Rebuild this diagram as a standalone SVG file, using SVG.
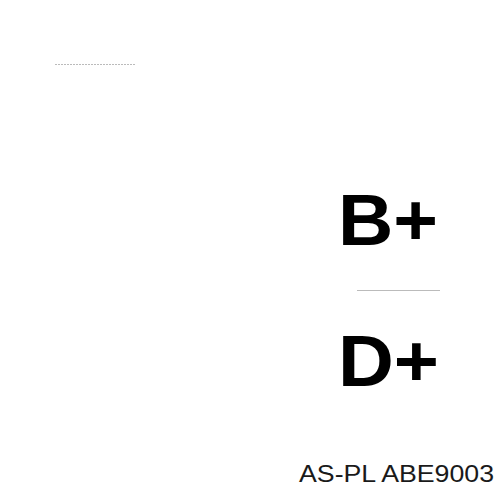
<svg xmlns="http://www.w3.org/2000/svg" width="500" height="500" viewBox="0 0 500 500">
<style>
.big{font-family:"Liberation Sans",Arial,sans-serif;font-weight:bold;font-size:72px;fill:#000}
.cap{font-family:"Liberation Sans",Arial,sans-serif;font-size:24px;fill:#1a1a1a}
.ln{stroke:#bbb;stroke-width:1}
</style>
<rect width="500" height="500" fill="#fff"/>
<line class="ln" x1="55" y1="64.5" x2="135" y2="64.5" stroke-dasharray="2,1"/>
<line class="ln" x1="357" y1="290.5" x2="440" y2="290.5"/>
<g id="bplus"><text class="big" x="338" y="245" textLength="100" lengthAdjust="spacingAndGlyphs">B+</text></g>
<g id="dplus"><text class="big" x="338" y="386" textLength="101" lengthAdjust="spacingAndGlyphs">D+</text></g>
<text class="cap" x="299" y="482" textLength="195" lengthAdjust="spacingAndGlyphs">AS-PL ABE9003</text>
</svg>
